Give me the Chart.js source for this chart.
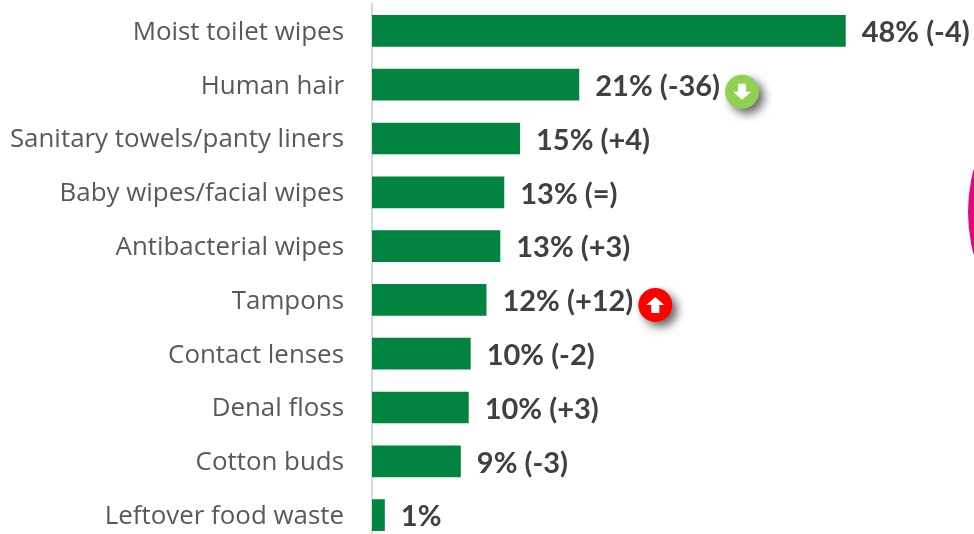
<!DOCTYPE html>
<html>
<head>
<meta charset="utf-8">
<style>
html,body{margin:0;padding:0;background:#fff;overflow:hidden;width:974px;height:534px}
canvas{display:block}
</style>
<script src="https://cdn.jsdelivr.net/npm/chart.js@4"></script>
</head>
<body>
<canvas id="c" width="974" height="543"></canvas>
<script>
const categories = ["Moist toilet wipes","Human hair","Sanitary towels/panty liners","Baby wipes/facial wipes","Antibacterial wipes","Tampons","Contact lenses","Denal floss","Cotton buds","Leftover food waste"];
const values = [48,21,15,13.4,13,11.6,10,9.8,9,1.3];
const valueLabels = ["48% (-4)","21% (-36)","15% (+4)","13% (=)","13% (+3)","12% (+12)","10% (-2)","10% (+3)","9% (-3)","1%"];
const arrows = [null,"down",null,null,null,"up",null,null,null,null];

const labelPlugin = {
  id:'labels',
  afterDatasetsDraw(chart){
    const {ctx} = chart;
    const meta = chart.getDatasetMeta(0);
    ctx.save();
    // partially visible magenta shape at right edge
    ctx.fillStyle='#e0067f';
    ctx.beginPath();
    ctx.arc(1132,212,164,0,Math.PI*2);
    ctx.fill();
    ctx.font='bold 29px Lato, Carlito, sans-serif';
    ctx.textBaseline='middle';
    ctx.textAlign='left';
    meta.data.forEach((bar,i)=>{
      const x = bar.x+16, y = bar.y+2;
      ctx.fillStyle='#404040';
      ctx.fillText(valueLabels[i],x,y);
      if(arrows[i]){
        const w = ctx.measureText(valueLabels[i]).width;
        const cx = x+w+22, cy = bar.y+(arrows[i]==='down'?7:5);
        const r = 17;
        ctx.save();
        ctx.shadowColor='rgba(0,0,0,0.6)';
        ctx.shadowBlur=10;ctx.shadowOffsetX=5;ctx.shadowOffsetY=5;
        ctx.fillStyle=arrows[i]==='down'?'#92d050':'#ff0000';
        ctx.beginPath();ctx.arc(cx,cy,r,0,Math.PI*2);ctx.fill();
        ctx.restore();
        const d = arrows[i]==='down'?1:-1;
        ctx.fillStyle='#fff';
        ctx.beginPath();
        ctx.moveTo(cx-4,cy-8*d);ctx.lineTo(cx+4,cy-8*d);ctx.lineTo(cx+4,cy);
        ctx.lineTo(cx+9,cy);ctx.lineTo(cx,cy+8*d);ctx.lineTo(cx-9,cy);ctx.lineTo(cx-4,cy);
        ctx.closePath();ctx.fill();
      }
    });
    ctx.restore();
  }
};

new Chart(document.getElementById('c'),{
  type:'bar',
  data:{labels:categories,datasets:[{data:values,backgroundColor:'#00843f',barPercentage:0.59,categoryPercentage:1}]},
  options:{
    indexAxis:'y',responsive:false,animation:false,
    layout:{padding:{top:4,bottom:1,left:0,right:0}},
    plugins:{legend:{display:false},tooltip:{enabled:false}},
    scales:{
      x:{min:0,max:61,display:false},
      y:{
        afterFit(s){
          s.width=372;s.paddingTop=0;s.paddingBottom=0;
          if(!s._shifted){
            s._shifted=true;
            const orig=s._computeLabelItems.bind(s);
            s._computeLabelItems=(area)=>orig(area).map(it=>({...it,options:{...it.options,translation:[it.options.translation[0],it.options.translation[1]+1.5]}}));
          }
        },
        grid:{drawOnChartArea:false,drawTicks:false},
        border:{color:'#d9d9d9',width:2},
        ticks:{color:'#595959',padding:28,font:{family:'"Open Sans"',size:25.9}}
      }
    }
  },
  plugins:[labelPlugin]
});
</script>
</body>
</html>
